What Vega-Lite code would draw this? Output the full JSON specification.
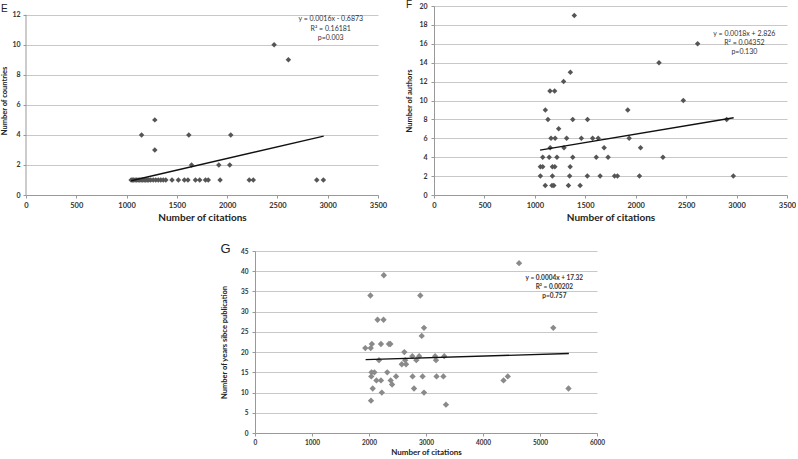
{
  "$schema": "https://vega.github.io/schema/vega-lite/v6.json",
  "padding": {"left": 0, "top": 0, "right": 0, "bottom": 0},
  "background": "white",
  "datasets": {
    "E": [
      {"citations": 2467, "countries": 10}, {"citations": 2609, "countries": 9},
      {"citations": 1281, "countries": 5}, {"citations": 1149, "countries": 4},
      {"citations": 1619, "countries": 4}, {"citations": 2036, "countries": 4},
      {"citations": 1281, "countries": 3}, {"citations": 1646, "countries": 2},
      {"citations": 1917, "countries": 2}, {"citations": 2026, "countries": 2},
      {"citations": 1045, "countries": 1}, {"citations": 1058, "countries": 1},
      {"citations": 1070, "countries": 1}, {"citations": 1085, "countries": 1},
      {"citations": 1100, "countries": 1}, {"citations": 1115, "countries": 1},
      {"citations": 1130, "countries": 1}, {"citations": 1145, "countries": 1},
      {"citations": 1160, "countries": 1}, {"citations": 1175, "countries": 1},
      {"citations": 1190, "countries": 1}, {"citations": 1205, "countries": 1},
      {"citations": 1220, "countries": 1}, {"citations": 1240, "countries": 1},
      {"citations": 1265, "countries": 1}, {"citations": 1290, "countries": 1},
      {"citations": 1315, "countries": 1}, {"citations": 1340, "countries": 1},
      {"citations": 1365, "countries": 1}, {"citations": 1390, "countries": 1},
      {"citations": 1452, "countries": 1}, {"citations": 1515, "countries": 1},
      {"citations": 1575, "countries": 1}, {"citations": 1610, "countries": 1},
      {"citations": 1685, "countries": 1}, {"citations": 1727, "countries": 1},
      {"citations": 1785, "countries": 1}, {"citations": 1812, "countries": 1},
      {"citations": 1930, "countries": 1}, {"citations": 2220, "countries": 1},
      {"citations": 2260, "countries": 1}, {"citations": 2891, "countries": 1},
      {"citations": 2957, "countries": 1}
    ],
    "Eline": [{"citations": 1045, "countries": 0.95}, {"citations": 2960, "countries": 3.92}],
    "F": [
      {"citations": 1391, "authors": 19}, {"citations": 2614, "authors": 16},
      {"citations": 2231, "authors": 14}, {"citations": 1352, "authors": 13},
      {"citations": 1285, "authors": 12}, {"citations": 1150, "authors": 11},
      {"citations": 1196, "authors": 11}, {"citations": 2472, "authors": 10},
      {"citations": 1104, "authors": 9}, {"citations": 1921, "authors": 9},
      {"citations": 1130, "authors": 8}, {"citations": 1376, "authors": 8},
      {"citations": 1522, "authors": 8}, {"citations": 2902, "authors": 8},
      {"citations": 1236, "authors": 7},
      {"citations": 1160, "authors": 6}, {"citations": 1201, "authors": 6},
      {"citations": 1315, "authors": 6}, {"citations": 1461, "authors": 6},
      {"citations": 1573, "authors": 6}, {"citations": 1628, "authors": 6},
      {"citations": 1935, "authors": 6},
      {"citations": 1152, "authors": 5}, {"citations": 1289, "authors": 5},
      {"citations": 1687, "authors": 5}, {"citations": 2048, "authors": 5},
      {"citations": 1078, "authors": 4}, {"citations": 1142, "authors": 4},
      {"citations": 1219, "authors": 4}, {"citations": 1376, "authors": 4},
      {"citations": 1609, "authors": 4}, {"citations": 1726, "authors": 4},
      {"citations": 2270, "authors": 4},
      {"citations": 1055, "authors": 3}, {"citations": 1078, "authors": 3},
      {"citations": 1174, "authors": 3}, {"citations": 1198, "authors": 3},
      {"citations": 1350, "authors": 3},
      {"citations": 1055, "authors": 2}, {"citations": 1174, "authors": 2},
      {"citations": 1345, "authors": 2}, {"citations": 1520, "authors": 2},
      {"citations": 1647, "authors": 2}, {"citations": 1790, "authors": 2},
      {"citations": 1819, "authors": 2}, {"citations": 2037, "authors": 2},
      {"citations": 2968, "authors": 2},
      {"citations": 1103, "authors": 1}, {"citations": 1170, "authors": 1},
      {"citations": 1188, "authors": 1}, {"citations": 1333, "authors": 1},
      {"citations": 1449, "authors": 1}
    ],
    "Fline": [{"citations": 1051, "authors": 4.75}, {"citations": 2971, "authors": 8.17}],
    "G": [
      {"citations": 1935, "years": 21}, {"citations": 2025, "years": 34},
      {"citations": 2030, "years": 21}, {"citations": 2050, "years": 22},
      {"citations": 2045, "years": 15}, {"citations": 2095, "years": 15},
      {"citations": 2040, "years": 14}, {"citations": 2065, "years": 11},
      {"citations": 2035, "years": 8}, {"citations": 2130, "years": 13},
      {"citations": 2210, "years": 13}, {"citations": 2175, "years": 18},
      {"citations": 2150, "years": 28}, {"citations": 2255, "years": 28},
      {"citations": 2210, "years": 22}, {"citations": 2225, "years": 10},
      {"citations": 2260, "years": 39}, {"citations": 2320, "years": 15},
      {"citations": 2350, "years": 22}, {"citations": 2375, "years": 22},
      {"citations": 2380, "years": 13}, {"citations": 2405, "years": 12},
      {"citations": 2475, "years": 14}, {"citations": 2575, "years": 17},
      {"citations": 2650, "years": 17}, {"citations": 2635, "years": 18},
      {"citations": 2620, "years": 20}, {"citations": 2760, "years": 19},
      {"citations": 2880, "years": 19}, {"citations": 2830, "years": 18},
      {"citations": 2765, "years": 14}, {"citations": 2790, "years": 11},
      {"citations": 2900, "years": 34}, {"citations": 2925, "years": 24},
      {"citations": 2965, "years": 26}, {"citations": 2940, "years": 14},
      {"citations": 2965, "years": 10}, {"citations": 3160, "years": 19},
      {"citations": 3320, "years": 19}, {"citations": 3175, "years": 18},
      {"citations": 3185, "years": 14}, {"citations": 3305, "years": 14},
      {"citations": 3350, "years": 7}, {"citations": 4360, "years": 13},
      {"citations": 4435, "years": 14}, {"citations": 4633, "years": 42},
      {"citations": 5233, "years": 26}, {"citations": 5500, "years": 11}
    ],
    "Gline": [{"citations": 1941, "years": 18.15}, {"citations": 5507, "years": 19.65}]
  },
  "vconcat": [
    {
      "hconcat": [
        {
          "width": 352, "height": 189,
          "title": {"text": "E", "anchor": "start", "frame": "bounds", "baseline": "top", "offset": -8, "fontSize": 10, "fontWeight": "normal", "font": "Liberation Sans", "color": "#222"},
          "layer": [
            {
              "data": {"values": [{}]},
              "mark": {"type": "rule", "color": "#999", "strokeWidth": 1},
              "encoding": {"x": {"datum": 0, "type": "quantitative"}, "y": {"datum": 0, "type": "quantitative"}, "y2": {"datum": 12}}
            },
            {
              "data": {"name": "E"},
              "mark": {"type": "point", "shape": "diamond", "filled": true, "size": 30, "color": "#555555", "opacity": 1},
              "encoding": {
                "x": {"field": "citations", "type": "quantitative", "scale": {"domain": [0, 3500], "nice": false},
                      "axis": {"title": "Number of citations", "values": [0, 500, 1000, 1500, 2000, 2500, 3000, 3500], "tickCount": 50, "format": "d", "titleFontSize": 10, "labelFontSize": 7.5, "labelPadding": 3, "titlePadding": 4}},
                "y": {"field": "countries", "type": "quantitative", "scale": {"domain": [0, 12.58], "nice": false},
                      "axis": {"title": "Number of countries", "values": [0, 2, 4, 6, 8, 10, 12], "tickCount": 50, "format": "d", "domain": false, "titleFontSize": 7.5, "labelFontSize": 7, "labelPadding": 3, "titlePadding": 3}}
              }
            },
            {
              "data": {"name": "Eline"},
              "mark": {"type": "line", "color": "#111", "strokeWidth": 1.4},
              "encoding": {"x": {"field": "citations", "type": "quantitative"}, "y": {"field": "countries", "type": "quantitative"}}
            },
            {
              "data": {"values": [{}]},
              "mark": {"type": "text", "text": ["y = 0.0016x - 0.6873", "R² = 0.16181", "p=0.003"], "align": "center", "baseline": "top", "lineHeight": 9.5, "fontSize": 7, "font": "Lato", "color": "#333"},
              "encoding": {"x": {"datum": 3030, "type": "quantitative"}, "y": {"datum": 11.95, "type": "quantitative"}}
            }
          ]
        },
        {
          "width": 353, "height": 189,
          "title": {"text": "F", "anchor": "start", "frame": "bounds", "baseline": "top", "offset": -8, "fontSize": 10, "fontWeight": "normal", "font": "Liberation Sans", "color": "#222"},
          "layer": [
            {
              "data": {"name": "F"},
              "mark": {"type": "point", "shape": "diamond", "filled": true, "size": 30, "color": "#555555", "opacity": 1},
              "encoding": {
                "x": {"field": "citations", "type": "quantitative", "scale": {"domain": [0, 3500], "nice": false},
                      "axis": {"title": "Number of citations", "values": [0, 500, 1000, 1500, 2000, 2500, 3000, 3500], "tickCount": 50, "format": "d", "titleFontSize": 10, "labelFontSize": 7.5, "labelPadding": 3, "titlePadding": 4}},
                "y": {"field": "authors", "type": "quantitative", "scale": {"domain": [0, 20], "nice": false},
                      "axis": {"title": "Number of authors", "values": [0, 2, 4, 6, 8, 10, 12, 14, 16, 18, 20], "tickCount": 50, "format": "d", "titleFontSize": 7.5, "labelFontSize": 7, "labelPadding": 4, "titlePadding": 5}}
              }
            },
            {
              "data": {"name": "Fline"},
              "mark": {"type": "line", "color": "#111", "strokeWidth": 1.4},
              "encoding": {"x": {"field": "citations", "type": "quantitative"}, "y": {"field": "authors", "type": "quantitative"}}
            },
            {
              "data": {"values": [{}]},
              "mark": {"type": "text", "text": ["y = 0.0018x + 2.826", "R² = 0.04352", "p=0.130"], "align": "center", "baseline": "top", "lineHeight": 9, "fontSize": 7, "font": "Lato", "color": "#333"},
              "encoding": {"x": {"datum": 3077, "type": "quantitative"}, "y": {"datum": 17.5, "type": "quantitative"}}
            }
          ]
        }
      ],
      "spacing": 18
    },
    {
      "hconcat": [
        {
          "width": 173, "height": 10,
          "data": {"values": [{}]},
          "mark": {"type": "point", "opacity": 0},
          "encoding": {}
        },
        {
          "width": 342, "height": 182,
          "title": {"text": "G", "anchor": "start", "frame": "bounds", "baseline": "top", "offset": -8, "fontSize": 13, "fontWeight": "normal", "font": "Liberation Sans", "color": "#222"},
          "layer": [
            {
              "data": {"name": "G"},
              "mark": {"type": "point", "shape": "diamond", "filled": true, "size": 40, "color": "#8a8a8a", "opacity": 1},
              "encoding": {
                "x": {"field": "citations", "type": "quantitative", "scale": {"domain": [0, 6000], "nice": false},
                      "axis": {"title": "Number of citations", "values": [0, 1000, 2000, 3000, 4000, 5000, 6000], "tickCount": 50, "format": "d", "titleFontSize": 8, "labelFontSize": 6.5, "labelPadding": 3, "titlePadding": 3}},
                "y": {"field": "years", "type": "quantitative", "scale": {"domain": [0, 45], "nice": false},
                      "axis": {"title": "Number of years sibce publication", "values": [0, 5, 10, 15, 20, 25, 30, 35, 40, 45], "tickCount": 50, "format": "d", "titleFontSize": 7.5, "labelFontSize": 6.5, "labelPadding": 4, "titlePadding": 12}}
              }
            },
            {
              "data": {"name": "Gline"},
              "mark": {"type": "line", "color": "#111", "strokeWidth": 1.4},
              "encoding": {"x": {"field": "citations", "type": "quantitative"}, "y": {"field": "years", "type": "quantitative"}}
            },
            {
              "data": {"values": [{}]},
              "mark": {"type": "text", "text": ["y = 0.0004x + 17.32", "R² = 0.00202", "p=0.757"], "align": "center", "baseline": "top", "lineHeight": 9, "fontSize": 6.5, "fontWeight": "bold", "font": "Lato", "color": "#333"},
              "encoding": {"x": {"datum": 5252, "type": "quantitative"}, "y": {"datum": 39.0, "type": "quantitative"}}
            }
          ]
        }
      ],
      "spacing": 21
    }
  ],
  "spacing": 20,
  "config": {
    "view": {"stroke": null},
    "axis": {
      "labelFont": "Lato", "labelFontWeight": "bold", "labelColor": "#333",
      "titleFont": "Lato", "titleFontWeight": "bold", "titleColor": "#222",
      "domainColor": "#999", "tickColor": "#999", "tickSize": 3,
      "gridColor": "#c8c8c8", "gridWidth": 1,
      "labelOverlap": false, "labelFlush": false
    },
    "axisX": {"grid": false},
    "axisY": {"grid": true}
  }
}
